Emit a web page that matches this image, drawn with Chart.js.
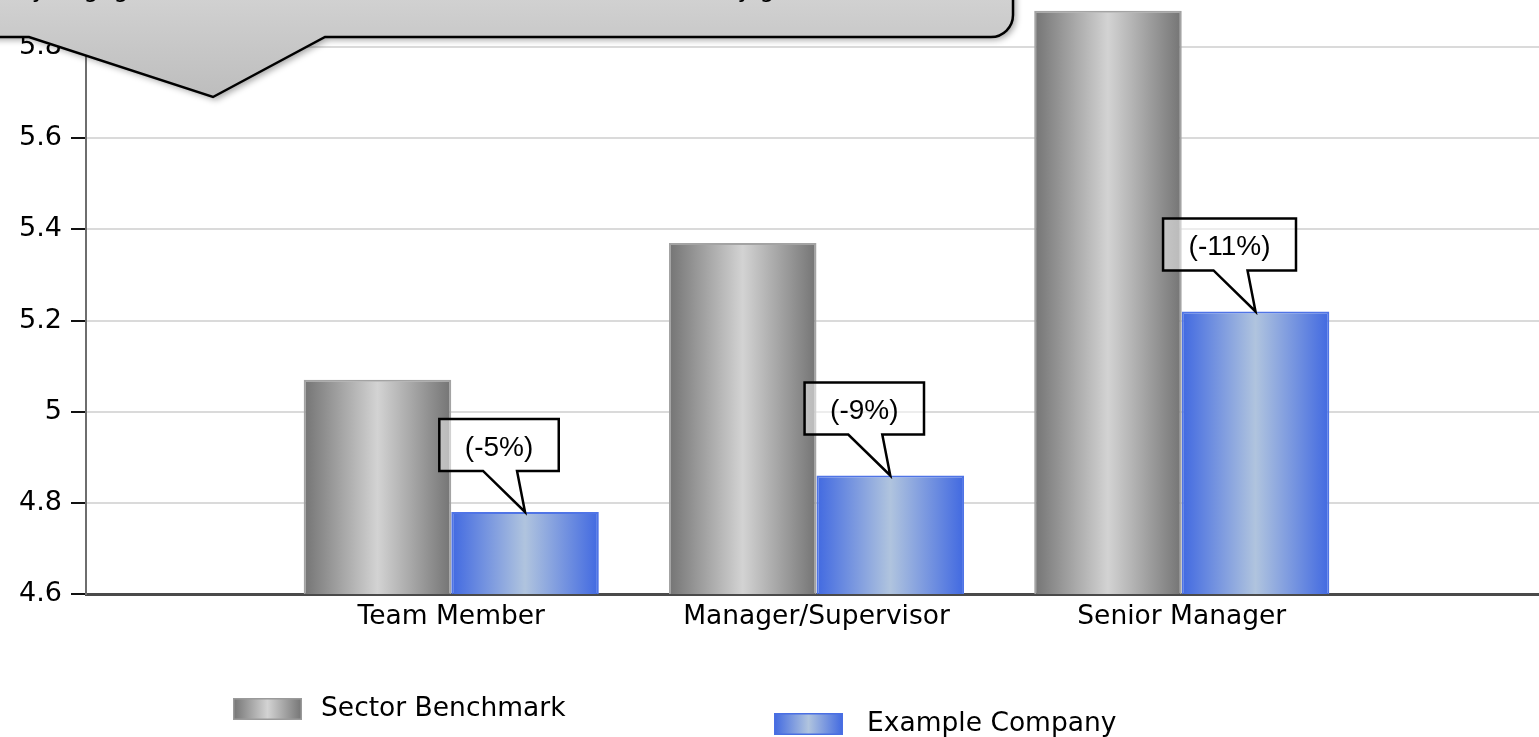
<!DOCTYPE html>
<html>
<head>
<meta charset="utf-8">
<script src="https://cdn.jsdelivr.net/npm/chart.js@4/dist/chart.umd.min.js"></script>
<style>
  html, body { margin: 0; padding: 0; overflow: hidden; background: #ffffff; width: 1539px; height: 737px; }
  #wrap { position: relative; width: 1539px; height: 737px; overflow: hidden; }
  #c { position: absolute; left: 0; top: -84px; }
</style>
</head>
<body>
<div id="wrap"><canvas id="c" width="1554" height="821"></canvas></div>
<script>
// ---- data ----
const categories = ['Team Member', 'Manager/Supervisor', 'Senior Manager'];
const seriesNames = ['Sector Benchmark', 'Example Company'];
const sectorBenchmark = [5.07, 5.37, 5.88];
const exampleCompany = [4.78, 4.86, 5.22];
const gapLabels = ['(-5%)', '(-9%)', '(-11%)'];
const yMin = 4.6, yMax = 6.0, yStep = 0.2;
const calloutText = 'Example Company engagement is lower than the Sector Benchmark at every grade';

// ---- layout / style constants ----
const CANVAS_TOP = -84;
const VERDANA = '"DejaVu Sans", Verdana, sans-serif';
const ARIAL = '"Liberation Sans", Arial, sans-serif';
const grayStops = ['#747474', '#d3d3d3', '#747474'];
const blueStops = ['#4169e1', '#b0c4de', '#4169e1'];

function hGrad(ctx, x0, x1, stops) {
  const g = ctx.createLinearGradient(x0, 0, x1, 0);
  g.addColorStop(0, stops[0]);
  g.addColorStop(0.5, stops[1]);
  g.addColorStop(1, stops[2]);
  return g;
}

const padLabels = ['', ...categories, ''];
const padData = arr => [null, ...arr, null];

const gradientPlugin = {
  id: 'barGradients',
  beforeDatasetsDraw(chart) {
    const ctx = chart.ctx;
    chart.data.datasets.forEach((ds, i) => {
      const meta = chart.getDatasetMeta(i);
      meta.data.forEach((el, j) => {
        if (ds.data[j] == null) return;
        const p = el.getProps(['x', 'width'], true);
        el.options.backgroundColor = hGrad(ctx, p.x - p.width / 2, p.x + p.width / 2, ds._stops);
      });
    });
  }
};

const overlayPlugin = {
  id: 'overlays',
  afterDraw(chart) {
    const ctx = chart.ctx;
    const oy = -CANVAS_TOP;
    const Y = v => v + oy;

    // ---- percentage callouts on company bars ----
    const meta = chart.getDatasetMeta(1);
    ctx.save();
    ctx.font = '28px ' + ARIAL;
    meta.data.forEach((el, j) => {
      if (chart.data.datasets[1].data[j] == null) return;
      const label = gapLabels[j - 1];
      const tipX = el.x, tipY = el.y;
      const tw = ctx.measureText(label).width;
      const bw = tw + 51, bh = 52;
      const cx = tipX - 26;
      const bx = cx - bw / 2, bb = tipY - 41, bt = bb - bh;
      ctx.beginPath();
      ctx.moveTo(bx, bt);
      ctx.lineTo(bx + bw, bt);
      ctx.lineTo(bx + bw, bb);
      ctx.lineTo(tipX - 8, bb);
      ctx.lineTo(tipX, tipY);
      ctx.lineTo(tipX - 42, bb);
      ctx.lineTo(bx, bb);
      ctx.closePath();
      ctx.fillStyle = 'rgba(255,255,255,0.5)';
      ctx.fill();
      ctx.lineWidth = 2.5;
      ctx.strokeStyle = '#000';
      ctx.lineJoin = 'miter';
      ctx.stroke();
      ctx.fillStyle = '#000';
      ctx.textAlign = 'center';
      ctx.textBaseline = 'middle';
      ctx.fillText(label, cx, (bt + bb) / 2 + 3);
    });
    ctx.restore();

    // ---- big title callout (top-left, cut off) ----
    ctx.save();
    const r = 22, right = 1013, bottom = 37;
    ctx.beginPath();
    ctx.moveTo(-40, Y(-300));
    ctx.lineTo(right, Y(-300));
    ctx.lineTo(right, Y(bottom - r));
    ctx.arcTo(right, Y(bottom), right - r, Y(bottom), r);
    ctx.lineTo(325, Y(bottom));
    ctx.lineTo(213, Y(97));
    ctx.lineTo(29, Y(bottom));
    ctx.lineTo(-40, Y(bottom));
    ctx.closePath();
    const vg = ctx.createLinearGradient(0, Y(-40), 0, Y(97));
    vg.addColorStop(0, '#d9d9d9');
    vg.addColorStop(1, '#bdbdbd');
    ctx.shadowColor = 'rgba(0,0,0,0.35)';
    ctx.shadowBlur = 6;
    ctx.shadowOffsetX = 3;
    ctx.shadowOffsetY = 3;
    ctx.fillStyle = vg;
    ctx.fill();
    ctx.shadowColor = 'transparent';
    ctx.lineWidth = 2.5;
    ctx.strokeStyle = '#000';
    ctx.stroke();
    ctx.fillStyle = '#000';
    ctx.font = '24px ' + VERDANA;
    ctx.textAlign = 'left';
    ctx.textBaseline = 'alphabetic';
    ctx.fillText(calloutText, -180, Y(-3));
    ctx.restore();

    // ---- legend ----
    ctx.save();
    const items = [
      { x: 233, y: 698, tx: 321, stops: grayStops, border: '#9a9a9a' },
      { x: 774, y: 713, tx: 867, stops: blueStops, border: '#4a6fe3' }
    ];
    ctx.font = '26.5px ' + VERDANA;
    ctx.textBaseline = 'middle';
    ctx.textAlign = 'left';
    items.forEach((it, i) => {
      const w = 69, h = 22;
      ctx.fillStyle = hGrad(ctx, it.x, it.x + w, it.stops);
      ctx.fillRect(it.x, Y(it.y), w, h);
      ctx.lineWidth = 1.5;
      ctx.strokeStyle = it.border;
      ctx.strokeRect(it.x + 0.75, Y(it.y) + 0.75, w - 1.5, h - 1.5);
      ctx.fillStyle = '#000';
      ctx.fillText(chart.data.datasets[i].label, it.tx, Y(it.y + h / 2));
    });
    ctx.restore();
  }
};

const chart = new Chart(document.getElementById('c'), {
  type: 'bar',
  data: {
    labels: padLabels,
    datasets: [
      {
        label: seriesNames[0],
        data: padData(sectorBenchmark),
        _stops: grayStops,
        backgroundColor: () => '#999999',
        borderColor: '#a3a3a3',
        borderWidth: 2,
        categoryPercentage: 0.808,
        barPercentage: 1.0
      },
      {
        label: seriesNames[1],
        data: padData(exampleCompany),
        _stops: blueStops,
        backgroundColor: () => '#6f8ee6',
        borderColor: '#4f74e6',
        borderWidth: 2,
        categoryPercentage: 0.808,
        barPercentage: 1.0
      }
    ]
  },
  options: {
    responsive: false,
    animation: false,
    devicePixelRatio: 1,
    layout: { padding: { top: 40, left: 0, right: 0, bottom: 0 } },
    plugins: { legend: { display: false }, tooltip: { enabled: false } },
    scales: {
      x: {
        offset: false,
        grid: { display: false, drawTicks: false },
        border: { display: true, color: '#4a4a4a', width: 3 },
        ticks: { color: '#000', font: { family: VERDANA, size: 26.5 }, padding: 7, maxRotation: 0, autoSkip: false },
        afterFit: s => { s.height = 143; }
      },
      y: {
        min: yMin,
        max: yMax,
        ticks: {
          stepSize: yStep,
          color: '#000',
          padding: 9,
          font: { family: VERDANA, size: 27 },
          callback: v => String(Number(v.toFixed(1)))
        },
        grid: { color: '#dadada', lineWidth: 2, tickColor: '#111', tickLength: 15, tickWidth: 2 },
        border: { color: '#6e6e6e', width: 2 },
        afterFit: s => { s.width = 86; }
      }
    }
  },
  plugins: [gradientPlugin, overlayPlugin]
});
</script>
</body>
</html>
